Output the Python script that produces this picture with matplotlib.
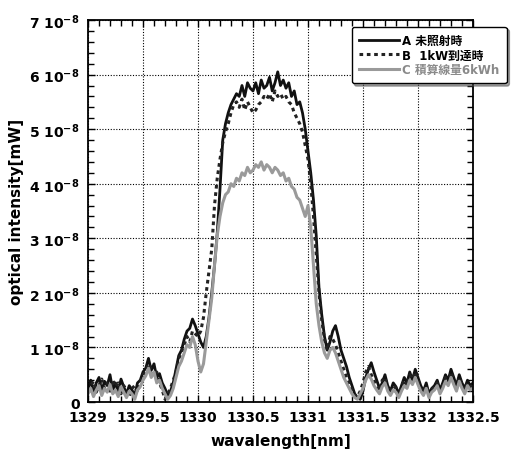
import numpy as np
import matplotlib
matplotlib.use("Agg")
import matplotlib.pyplot as plt
import matplotlib.ticker as mticker

plt.rcParams["font.family"] = ["DejaVu Sans", "Noto Sans CJK JP"]
plt.rcParams["font.weight"] = "bold"
plt.rcParams["axes.labelweight"] = "bold"
plt.rcParams["mathtext.default"] = "bf"

# wavelength grid [nm], 0.025 nm step
wl = np.round(np.arange(1329.0, 1332.5001, 0.025), 3)

# intensities in units of 1e-8 mW
a_unirr = [
    0.25, 0.40, 0.15, 0.35, 0.45, 0.20, 0.38, 0.30, 0.50, 0.22,
    0.35, 0.18, 0.42, 0.28, 0.15, 0.30, 0.22, 0.12, 0.35, 0.40,
    0.55, 0.62, 0.80, 0.58, 0.70, 0.45, 0.52, 0.35, 0.25, 0.12,
    0.20, 0.35, 0.60, 0.85, 0.95, 1.15, 1.30, 1.35, 1.52, 1.40,
    1.25, 1.10, 1.00, 1.20, 1.55, 2.00, 2.50, 3.10, 3.90, 4.80,
    5.10, 5.30, 5.45, 5.55, 5.65, 5.60, 5.80, 5.60, 5.85, 5.75,
    5.70, 5.85, 5.65, 5.90, 5.75, 5.80, 5.95, 5.70, 5.85, 6.05,
    5.80, 5.90, 5.75, 5.85, 5.60, 5.70, 5.45, 5.50, 5.30, 5.00,
    4.60, 4.20, 3.70, 3.05, 2.10, 1.60, 1.20, 0.95, 1.10, 1.30,
    1.40, 1.20, 0.95, 0.80, 0.65, 0.45, 0.30, 0.15, 0.08, 0.05,
    0.20, 0.45, 0.60, 0.72, 0.55, 0.40, 0.25, 0.35, 0.50, 0.30,
    0.20, 0.35, 0.28, 0.15, 0.30, 0.45, 0.35, 0.55, 0.40, 0.60,
    0.45, 0.30, 0.20, 0.35, 0.15, 0.25, 0.30, 0.40, 0.22, 0.35,
    0.50, 0.40, 0.60, 0.45, 0.30, 0.50, 0.35, 0.25, 0.40, 0.30,
    0.35,
]
b_1kw = [
    0.20, 0.30, 0.38, 0.18, 0.30, 0.42, 0.25, 0.35, 0.20, 0.40,
    0.28, 0.35, 0.15, 0.30, 0.22, 0.10, 0.25, 0.30, 0.18, 0.35,
    0.50, 0.55, 0.70, 0.60, 0.48, 0.55, 0.35, 0.22, 0.05, 0.15,
    0.25, 0.40, 0.55, 0.80, 0.90, 1.05, 1.20, 1.10, 1.30, 1.25,
    1.20, 1.30, 1.55, 2.00, 2.40, 2.80, 3.60, 4.10, 4.45, 4.75,
    4.95, 5.10, 5.30, 5.45, 5.50, 5.40, 5.55, 5.35, 5.50, 5.40,
    5.30, 5.35, 5.45, 5.50, 5.60, 5.55, 5.65, 5.50, 5.70, 5.60,
    5.65, 5.55, 5.60, 5.50, 5.45, 5.30, 5.20, 5.10, 4.95, 4.70,
    4.45, 4.00, 3.40, 2.70, 2.00, 1.50, 1.15, 0.95, 1.20, 1.15,
    1.05, 0.90, 0.75, 0.60, 0.45, 0.35, 0.22, 0.12, 0.10, 0.20,
    0.35, 0.55, 0.65, 0.50, 0.40, 0.30, 0.20, 0.40, 0.45, 0.25,
    0.18, 0.30, 0.25, 0.12, 0.28, 0.40, 0.30, 0.50, 0.42, 0.55,
    0.40, 0.25, 0.18, 0.30, 0.12, 0.22, 0.28, 0.35, 0.20, 0.30,
    0.45, 0.35, 0.55, 0.40, 0.25, 0.45, 0.30, 0.22, 0.35, 0.28,
    0.30,
]
c_6kwh = [
    0.15, 0.25, 0.10, 0.22, 0.30, 0.12, 0.25, 0.18, 0.32, 0.15,
    0.22, 0.10, 0.28, 0.18, 0.08, 0.20, 0.15, 0.05, 0.22, 0.28,
    0.40, 0.48, 0.62, 0.45, 0.55, 0.35, 0.40, 0.25, 0.15, 0.05,
    0.12, 0.25, 0.45, 0.65, 0.75, 0.90, 1.05, 1.00, 1.20, 1.05,
    0.75, 0.55, 0.70, 1.10, 1.50, 1.90, 2.50, 3.05, 3.40, 3.65,
    3.80, 3.85, 4.00, 3.95, 4.10, 4.05, 4.20, 4.15, 4.30, 4.20,
    4.25, 4.35, 4.30, 4.40, 4.25, 4.35, 4.30, 4.20, 4.30, 4.25,
    4.15, 4.20, 4.05, 4.10, 3.95, 3.90, 3.75, 3.70, 3.55, 3.40,
    3.60, 3.20, 2.50, 1.80, 1.40, 1.10, 0.90, 0.80, 0.95, 1.00,
    0.90, 0.75, 0.60, 0.45, 0.35, 0.25, 0.15, 0.08, 0.05, 0.15,
    0.25, 0.40, 0.50, 0.42, 0.30, 0.22, 0.15, 0.28, 0.35, 0.20,
    0.12, 0.22, 0.18, 0.08, 0.20, 0.30, 0.25, 0.40, 0.32, 0.45,
    0.32, 0.20, 0.12, 0.25, 0.08, 0.18, 0.22, 0.30, 0.15, 0.25,
    0.38, 0.30, 0.45, 0.32, 0.20, 0.38, 0.25, 0.15, 0.30, 0.22,
    0.25,
]
labels = ["A 未照射時", "B  1kW到達時", "C 積算線量6kWh"]

fig = plt.figure(figsize=(5.11, 4.52), dpi=100)
ax = fig.add_axes([0.1722, 0.1084, 0.7534, 0.8451])

la, = ax.plot(wl, a_unirr, color="#111111", lw=2.0, label=labels[0])
lb, = ax.plot(wl, b_1kw, color="#222222", lw=2.2, ls=(0, (1.2, 1.2)), label=labels[1])
lc, = ax.plot(wl, c_6kwh, color="#9a9a9a", lw=2.2, label=labels[2])

ax.set_xlim(1329, 1332.5)
ax.set_ylim(0, 7)
ax.xaxis.set_major_locator(mticker.MultipleLocator(0.5))
ax.xaxis.set_minor_locator(mticker.MultipleLocator(0.1))
ax.yaxis.set_major_locator(mticker.MultipleLocator(1))
ax.yaxis.set_minor_locator(mticker.MultipleLocator(0.2))
ax.xaxis.set_major_formatter(mticker.FuncFormatter(lambda v, _: f"{v:g}"))
ax.yaxis.set_major_formatter(
    mticker.FuncFormatter(lambda v, _: "0" if v == 0 else f"{int(v)} 10$^{{-8}}$"))
ax.tick_params(which="both", direction="in", top=True, right=True, width=1, colors="black")
ax.tick_params(which="major", length=5, labelsize=10, pad=6)
ax.tick_params(which="minor", length=4)
ax.grid(True, which="major", color="black", lw=0.8, ls=(0, (1, 1.5)))
for s in ax.spines.values():
    s.set_linewidth(1.3)

ax.set_xlabel("wavalength[nm]", fontsize=11, labelpad=6)
ax.set_ylabel("optical intensity[mW]", fontsize=11, labelpad=4)

leg = fig.legend(handles=[la, lb, lc], loc="upper right", bbox_to_anchor=(1.003, 0.952),
                 fontsize=8.5, handlelength=3.4, handletextpad=0.3, labelspacing=0.15,
                 borderpad=0.6, fancybox=True, shadow=True, framealpha=1,
                 edgecolor="black")
leg.get_frame().set_linewidth(1.0)
leg.get_texts()[2].set_color("#8a8a8a")

fig.savefig("out.png", dpi=100)
